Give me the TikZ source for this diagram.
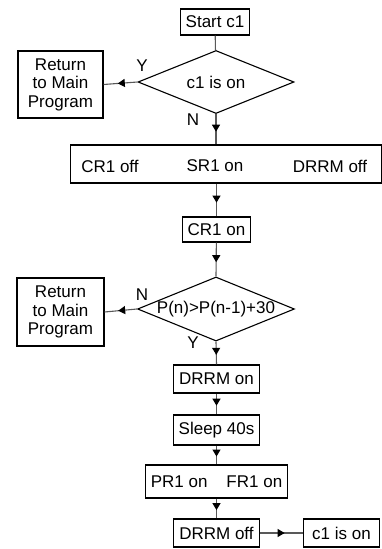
\documentclass[tikz,border=0pt]{standalone}
\usepackage{fontspec}
\setmainfont{Liberation Sans}
\usetikzlibrary{arrows.meta,shapes.geometric,decorations.markings}

\begin{document}
\begin{tikzpicture}[x=1pt,y=-1pt,font=\fontsize{17}{18.5}\selectfont,
  box/.style={draw=black,line width=1.1pt,inner xsep=5.5pt,inner ysep=0pt,minimum height=27pt},
  decision/.style={draw=black,line width=1.1pt,shape=diamond,inner sep=0pt,aspect=2.45,
    minimum width=156pt,minimum height=63pt},
  flow/.style={draw=black!65,line width=1.1pt,postaction={decorate},
    decoration={markings,mark=at position .58 with {\arrow[black]{Triangle[length=7pt,width=8pt]}}}}]
\useasboundingbox (0,0) rectangle (382,549);
\node[box,minimum height=26pt] (start) at (215,22) {Start c1};
\node[decision] (test1) at (216,82) {c1 is on};
\node[box,align=center,minimum width=85pt,minimum height=67pt] (ret1) at (60.5,84.5) {Return\\to Main\\Program};
\node (yes1) at (142,66) {Y};
\node (no1) at (193,120) {N};
\node[draw=black,line width=1.1pt,minimum width=311.5pt,minimum height=38pt] (outs) at (226,164) {};
\node (cr1off) at (110,166) {CR1 off};
\node (sr1on) at (215,166) {SR1 on};
\node (drrmoff1) at (330,166) {DRRM off};
\node[box,minimum height=25pt] (cr1on) at (216.5,229.5) {CR1 on};
\node[decision] (test2) at (216,309) {P(n)>P(n-1)+30};
\node[box,align=center,minimum width=87pt,minimum height=68pt] (ret2) at (60.5,312) {Return\\to Main\\Program};
\node (no2) at (142,295) {N};
\node (yes2) at (193,343) {Y};
\node[box,minimum height=28pt] (drrmon) at (216.5,379) {DRRM on};
\node[box,minimum height=30pt] (sleep) at (216.5,430) {Sleep 40s};
\node[box,minimum height=33pt] (pf) at (216.5,481.5) {PR1 on\hspace{19pt}FR1 on};
\node[box,minimum height=28pt] (drrmoff2) at (216.5,533) {DRRM off};
\node[box,inner xsep=9pt,minimum height=28pt] (again) at (341.5,533) {c1 is on};
% connectors
\draw[draw=black!65,line width=1.1pt] (start) -- (test1);
\draw[flow] (test1.west) -- (ret1.east);
\draw[flow] (test1.south) -- (test1.south |- outs.north);
\draw[flow] (outs.south -| cr1on) -- (cr1on.north);
\draw[flow] (cr1on) -- (test2.north);
\draw[flow] (test2.west) -- (ret2.east);
\draw[flow] (test2.south) -- (drrmon.north);
\draw[flow] (drrmon) -- (sleep);
\draw[flow] (sleep) -- (pf);
\draw[flow] (pf) -- (drrmoff2);
\draw[flow] (drrmoff2) -- (again);
\end{tikzpicture}
\end{document}
